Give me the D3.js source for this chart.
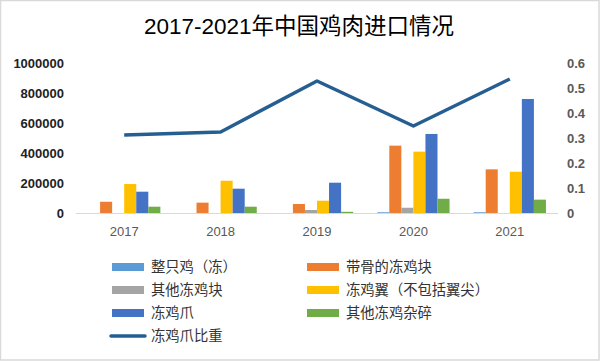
<!DOCTYPE html>
<html>
<head>
<meta charset="utf-8">
<script src="https://cdn.jsdelivr.net/npm/d3@7"></script>
<style>
  body { margin: 0; background: #fff; }
  text { font-family: "Liberation Sans", Arial, "Noto Sans CJK SC", sans-serif; }
</style>
</head>
<body>
<div id="chart"></div>
<script>
// Categories and series
var years = ["2017", "2018", "2019", "2020", "2021"];
var seriesNames = ["整只鸡（冻）", "带骨的冻鸡块", "其他冻鸡块", "冻鸡翼（不包括翼尖）", "冻鸡爪", "其他冻鸡杂碎"];
var seriesColors = ["#5B9BD5", "#ED7D31", "#A5A5A5", "#FFC000", "#4472C4", "#70AD47"];

var wholeChicken = [0, 0, 0, 5000, 5000];
var boneInCuts = [75000, 69000, 60000, 449000, 291000];
var otherCuts = [0, 0, 20000, 35000, 0];
var wings = [193000, 215000, 82000, 409000, 275000];
var paws = [142000, 162000, 202000, 527000, 760000];
var offal = [42000, 42000, 8000, 95000, 89000];

var pawShareName = "冻鸡爪比重";
var pawShare = [0.312, 0.324, 0.528, 0.348, 0.536];

var leftTicks = [0, 200000, 400000, 600000, 800000, 1000000];
var rightTicks = [0, 0.1, 0.2, 0.3, 0.4, 0.5, 0.6];

var seriesValues = [wholeChicken, boneInCuts, otherCuts, wings, paws, offal];

// Width and height
var w = 600;
var h = 361;

var svg = d3.select("#chart")
  .append("svg")
  .attr("width", w)
  .attr("height", h);

// outer frame
svg.append("rect")
  .attr("x", 0.5).attr("y", 0.5)
  .attr("width", w - 1.5).attr("height", h - 1.5)
  .attr("fill", "#fff")
  .attr("stroke", "#d9d9d9")
  .attr("stroke-width", 1.5);

// title
svg.append("text")
  .attr("x", 299)
  .attr("y", 34)
  .attr("text-anchor", "middle")
  .attr("font-size", 22.5)
  .attr("fill", "#000")
  .text("2017-2021年中国鸡肉进口情况");

// scales
var x0 = d3.scaleBand()
  .domain(years)
  .range([76, 558])
  .paddingInner(0.25)
  .paddingOuter(0.125);

var x1 = d3.scaleBand()
  .domain(seriesNames)
  .range([0, x0.bandwidth()]);

var yLeft = d3.scaleLinear().domain([0, 1000000]).range([213, 63]);
var yRight = d3.scaleLinear().domain([0, 0.6]).range([213, 63]);

// left axis
var leftAxis = d3.axisLeft(yLeft).tickValues(leftTicks).tickSize(0).tickPadding(0).tickFormat(d3.format("d"));
var gl = svg.append("g").attr("transform", "translate(64,0)").call(leftAxis);
gl.select(".domain").remove();
gl.selectAll("text")
  .attr("font-size", 13)
  .attr("font-weight", "bold")
  .attr("fill", "#222")
  .style("font-family", "'Liberation Sans', Arial, sans-serif");

// right axis
var rightAxis = d3.axisRight(yRight).tickValues(rightTicks).tickSize(0).tickPadding(0).tickFormat(function (d) { return d === 0 ? "0" : d3.format(".1f")(d); });
var gr = svg.append("g").attr("transform", "translate(567,0)").call(rightAxis);
gr.select(".domain").remove();
gr.selectAll("text")
  .attr("font-size", 13)
  .attr("font-weight", "bold")
  .attr("fill", "#595959")
  .style("font-family", "'Liberation Sans', Arial, sans-serif");

// bars
var groups = svg.selectAll("g.year")
  .data(years)
  .enter()
  .append("g")
  .attr("class", "year")
  .attr("transform", function (d) { return "translate(" + x0(d) + ",0)"; });

groups.selectAll("rect")
  .data(function (d, i) {
    return seriesNames.map(function (s, j) {
      return { name: s, value: seriesValues[j][i], color: seriesColors[j] };
    });
  })
  .enter()
  .append("rect")
  .attr("x", function (d) { return x1(d.name); })
  .attr("y", function (d) { return yLeft(d.value); })
  .attr("width", x1.bandwidth())
  .attr("height", function (d) { return yLeft(0) - yLeft(d.value); })
  .attr("fill", function (d) { return d.color; });

// baseline
svg.append("line")
  .attr("x1", 76).attr("x2", 558)
  .attr("y1", yLeft(0) + 0.5).attr("y2", yLeft(0) + 0.5)
  .attr("stroke", "#d9d9d9")
  .attr("stroke-width", 1);

// x labels
var xAxis = d3.axisBottom(x0).tickSize(0).tickPadding(0);
var gx = svg.append("g").attr("transform", "translate(0,227)").call(xAxis);
gx.select(".domain").remove();
gx.selectAll("text")
  .attr("font-size", 13)
  .attr("fill", "#595959")
  .style("font-family", "'Liberation Sans', Arial, sans-serif");

// line for paw share
var line = d3.line()
  .x(function (d, i) { return x0(years[i]) + x0.bandwidth() / 2; })
  .y(function (d) { return yRight(d); });

svg.append("path")
  .datum(pawShare)
  .attr("d", line)
  .attr("fill", "none")
  .attr("stroke", "#255E91")
  .attr("stroke-width", 3.5)
  .attr("stroke-linejoin", "round");

// legend
var legendItems = [
  { name: seriesNames[0], color: seriesColors[0], col: 0, row: 0 },
  { name: seriesNames[1], color: seriesColors[1], col: 1, row: 0 },
  { name: seriesNames[2], color: seriesColors[2], col: 0, row: 1 },
  { name: seriesNames[3], color: seriesColors[3], col: 1, row: 1 },
  { name: seriesNames[4], color: seriesColors[4], col: 0, row: 2 },
  { name: seriesNames[5], color: seriesColors[5], col: 1, row: 2 }
];
var legendColX = [112, 307];
var legendRowY = [267, 290, 313, 336];

var legend = svg.append("g");
legendItems.forEach(function (d) {
  legend.append("rect")
    .attr("x", legendColX[d.col])
    .attr("y", legendRowY[d.row] - 4)
    .attr("width", 32)
    .attr("height", 8)
    .attr("fill", d.color);
  legend.append("text")
    .attr("x", legendColX[d.col] + 39)
    .attr("y", legendRowY[d.row])
    .attr("dy", "0.36em")
    .attr("font-size", 14.3)
    .attr("fill", "#333")
    .style("font-family", "'Noto Sans CJK SC', sans-serif")
    .text(d.name);
});
legend.append("line")
  .attr("x1", 111).attr("x2", 145)
  .attr("y1", legendRowY[3]).attr("y2", legendRowY[3])
  .attr("stroke", "#255E91")
  .attr("stroke-width", 3.5)
  .attr("stroke-linecap", "round");
legend.append("text")
  .attr("x", 151)
  .attr("y", legendRowY[3])
  .attr("dy", "0.36em")
  .attr("font-size", 14.3)
  .attr("fill", "#333")
  .style("font-family", "'Noto Sans CJK SC', sans-serif")
  .text(pawShareName);
</script>
</body>
</html>
